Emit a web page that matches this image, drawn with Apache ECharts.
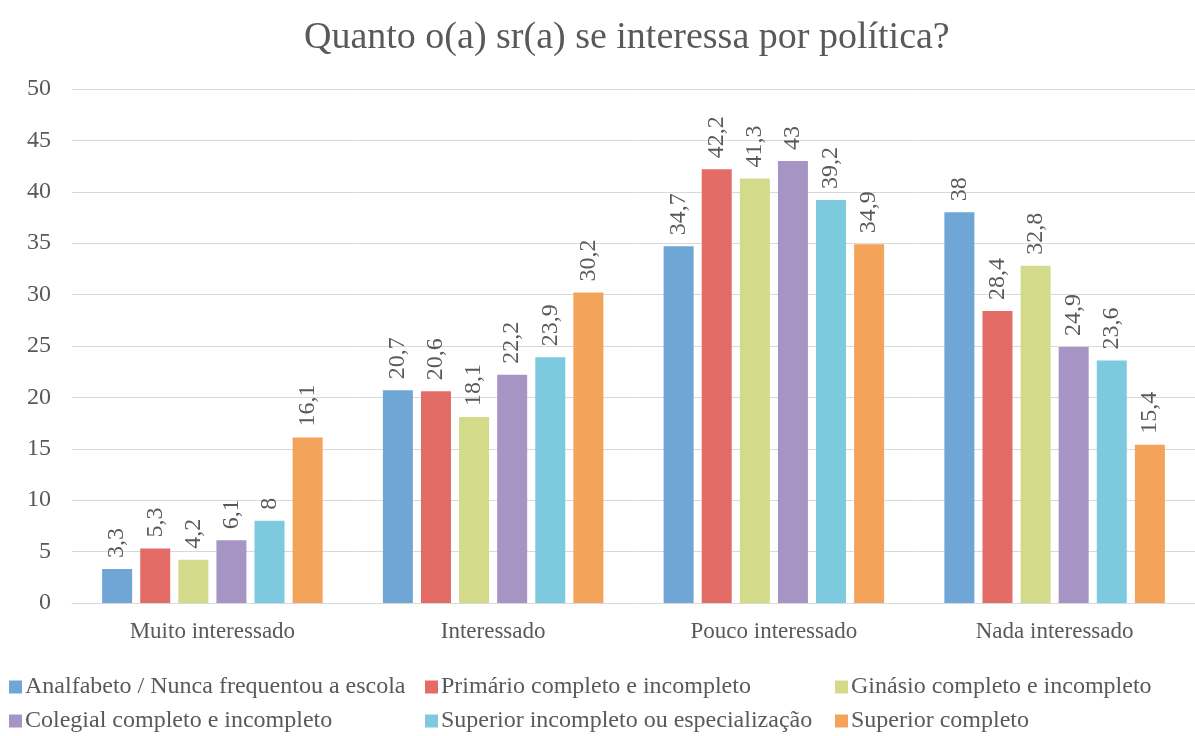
<!DOCTYPE html>
<html>
<head>
<meta charset="utf-8">
<script src="https://cdn.jsdelivr.net/npm/echarts@6/dist/echarts.min.js"></script>
<style>
    html, body { margin: 0; padding: 0; background: #fff; }
    #chart { width: 1195px; height: 736px; }
</style>
</head>
<body>
<div id="chart"></div>
<script>
    let categories = ['Muito interessado', 'Interessado', 'Pouco interessado', 'Nada interessado'];
    let seriesNames = [
        'Analfabeto / Nunca frequentou a escola',
        'Primário completo e incompleto',
        'Ginásio completo e incompleto',
        'Colegial completo e incompleto',
        'Superior incompleto ou especialização',
        'Superior completo'
    ];
    let analfabeto = [3.3, 20.7, 34.7, 38];
    let primario = [5.3, 20.6, 42.2, 28.4];
    let ginasio = [4.2, 18.1, 41.3, 32.8];
    let colegial = [6.1, 22.2, 43, 24.9];
    let superiorIncompleto = [8, 23.9, 39.2, 23.6];
    let superiorCompleto = [16.1, 30.2, 34.9, 15.4];
    let yTicks = [0, 5, 10, 15, 20, 25, 30, 35, 40, 45, 50];

    let colors = ['#6FA6D6', '#E36C67', '#D3DB8A', '#A694C4', '#7DC9DD', '#F4A35A'];
    let values = [analfabeto, primario, ginasio, colegial, superiorIncompleto, superiorCompleto];
    let font = '"Liberation Serif", "Times New Roman", serif';

    let myChart = echarts.init(document.getElementById('chart'));

    let series = values.map((data, i)=> {
        return {
            name: seriesNames[i],
            type: 'bar',
            data: data,
            barWidth: 30,
            barGap: '27%',
            itemStyle: {color: colors[i]},
            label: {
                show: true,
                position: 'top',
                rotate: 90,
                align: 'left',
                verticalAlign: 'middle',
                distance: 11,
                color: '#595959',
                fontFamily: font,
                fontSize: 24,
                formatter: (p)=> String(p.value).replace('.', ',')
            }
        };
    });

    function legendFor(names, left) {
        return {
            orient: 'vertical',
            left: left,
            top: 675,
            padding: 0,
            data: names,
            itemWidth: 13,
            itemHeight: 13,
            itemGap: 10,
            icon: 'rect',
            textStyle: {color: '#595959', fontFamily: font, fontSize: 24, lineHeight: 24, padding: [0, 0, 0, -2]}
        };
    }

    let option = {
        animation: false,
        title: {
            text: 'Quanto o(a) sr(a) se interessa por política?',
            left: 299,
            top: 14,
            textStyle: {color: '#595959', fontFamily: font, fontSize: 38, fontWeight: 'normal'}
        },
        legend: [
            legendFor([seriesNames[0], seriesNames[3]], 9),
            legendFor([seriesNames[1], seriesNames[4]], 425),
            legendFor([seriesNames[2], seriesNames[5]], 835)
        ],
        grid: {left: 72, right: -12, top: 89, bottom: 133},
        xAxis: {
            type: 'category',
            data: categories,
            axisLine: {lineStyle: {color: '#d9d9d9', width: 1}},
            axisTick: {show: false},
            axisLabel: {color: '#595959', fontFamily: font, fontSize: 23, margin: 17}
        },
        yAxis: {
            type: 'value',
            min: yTicks[0],
            max: yTicks[yTicks.length - 1],
            interval: 5,
            axisLine: {show: false},
            axisTick: {show: false},
            splitLine: {lineStyle: {color: '#d9d9d9', width: 1}},
            axisLabel: {color: '#595959', fontFamily: font, fontSize: 24, margin: 21}
        },
        series: series
    };
    myChart.setOption(option);
</script>
</body>
</html>
